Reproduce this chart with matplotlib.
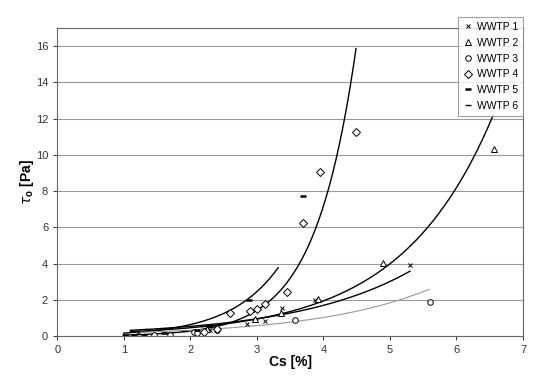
import numpy as np
import matplotlib
matplotlib.use('Agg')
import matplotlib.pyplot as plt

plt.rcParams['font.family'] = ['Liberation Sans', 'DejaVu Sans']
plt.rcParams['mathtext.fontset'] = 'custom'
plt.rcParams['mathtext.rm'] = 'Liberation Sans'
plt.rcParams['mathtext.bf'] = 'Liberation Sans:bold'

# measured points, Cs [%] and tau_o [Pa]
x1 = [1.21, 2.3, 2.85, 3.12, 3.38, 3.87, 5.3]
y1 = [0.25, 0.35, 0.65, 0.85, 1.55, 2.0, 3.9]
x2 = [2.25, 2.97, 3.37, 3.92, 4.9, 6.57]
y2 = [0.4, 0.95, 1.3, 2.05, 4.05, 10.3]
x3 = [1.45, 1.7, 2.05, 2.1, 2.4, 3.58, 5.6]
y3 = [0.05, 0.08, 0.2, 0.15, 0.35, 0.9, 1.9]
x4 = [2.2, 2.4, 2.6, 2.9, 3.0, 3.12, 3.45, 3.69, 3.95, 4.49]
y4 = [0.25, 0.4, 1.25, 1.4, 1.5, 1.75, 2.45, 6.25, 9.05, 11.25]
x5 = [1.02, 1.6, 2.1, 2.3, 2.88, 3.7]
y5 = [0.05, 0.15, 0.35, 0.55, 2.0, 7.75]
x6 = [1.15, 1.3, 1.6, 1.9, 2.2]
y6 = [0.05, 0.08, 0.15, 0.3, 0.55]

# exponential trend lines y = a*exp(b*x): a, b, x start, x end
trend_a = [0.011, 0.0427, 0.109, 0.170, 0.101]
trend_b = [1.62, 1.35, 0.72, 0.575, 0.58]
trend_x0 = [1.0, 1.0, 1.1, 1.1, 1.2]
trend_x1 = [4.49, 3.32, 6.55, 5.3, 5.59]
trend_col = ['black', 'black', 'black', 'black', '#999999']
trend_lw = [1.0, 1.0, 1.0, 1.0, 0.8]

fig = plt.figure(figsize=(5.5, 3.89), dpi=100)
ax = fig.add_axes([0.104, 0.136, 0.847, 0.792])

for i in range(len(trend_a)):
    xx = np.linspace(trend_x0[i], trend_x1[i], 200)
    ax.plot(xx, trend_a[i] * np.exp(trend_b[i] * xx), color=trend_col[i], lw=trend_lw[i])

ms = 4
ax.plot(x1, y1, 'x', color='black', ms=3.5, mew=0.7, label='WWTP 1')
ax.plot(x2, y2, '^', mfc='white', mec='black', ms=ms, mew=0.7, label='WWTP 2')
ax.plot(x3, y3, 'o', mfc='white', mec='black', ms=ms, mew=0.7, label='WWTP 3')
ax.plot(x4, y4, 'D', mfc='white', mec='black', ms=3.6, mew=0.7, label='WWTP 4')
ax.plot(x5, y5, '_', color='black', ms=5, mew=1.8, label='WWTP 5')
ax.plot(x6, y6, '_', color='black', ms=4, mew=1.0, label='WWTP 6')

ax.set_xlim(0, 7)
ax.set_ylim(0, 17)
ax.set_yticks(np.arange(0, 17, 2))
ax.set_xticks(np.arange(0, 8, 1))
ax.yaxis.grid(True, color='#999999', lw=0.8)
ax.set_axisbelow(True)
for s in ax.spines.values():
    s.set_color('#666666')
    s.set_linewidth(0.8)
ax.tick_params(labelsize=8, colors='#333333', length=3, width=0.7)

ax.set_xlabel('Cs [%]', fontsize=10, fontweight='bold', labelpad=0)
ax.set_ylabel(r'$\tau_\mathbf{o}$ [Pa]', fontsize=10, fontweight='bold', labelpad=0)

leg = fig.legend(loc='upper right', bbox_to_anchor=(0.955, 0.962), fontsize=7.5,
                 frameon=True, fancybox=False, edgecolor='#888888',
                 handlelength=1.0, handletextpad=0.3, labelspacing=0.55,
                 borderpad=0.5, borderaxespad=0.2)
leg.get_frame().set_linewidth(0.8)

fig.savefig('out.png', dpi=100)
